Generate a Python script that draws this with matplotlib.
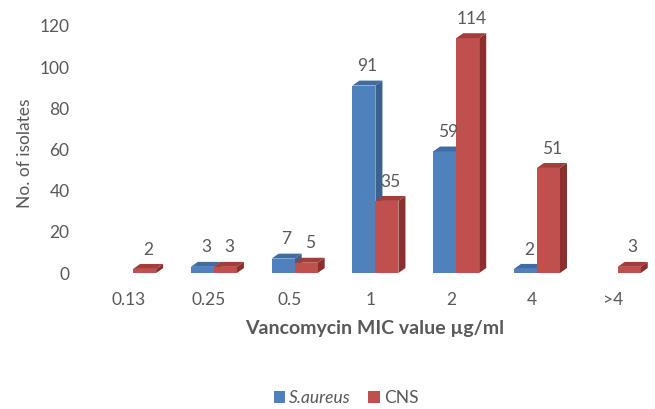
import matplotlib
matplotlib.use("Agg")
import matplotlib.pyplot as plt
from matplotlib.patches import Polygon, Patch
import numpy as np

categories = ["0.13", "0.25", "0.5", "1", "2", "4", ">4"]
s_aureus = [None, 3, 7, 91, 59, 2, None]
cns = [2, 3, 5, 35, 114, 51, 3]
series_names = ["S.aureus", "CNS"]

plt.rcParams['font.family'] = ['Lato', 'DejaVu Sans']
grey = "#595959"

fig = plt.figure(figsize=(6.55, 4.09), dpi=100)
ax = fig.add_axes([100/655, 0.3325, 550/655, 0.6296])
ax.set_xlim(-0.41, 6.40)
ax.set_ylim(0, 125)

colors = {
    "S.aureus": ("#4F81BD", "#3A6190", "#3E6CA3"),
    "CNS": ("#C0504D", "#8A2F2D", "#A33D3A"),
}
w = 0.285
dx = 0.087
dy = 2.4

x = np.arange(len(categories))
for si, (name, vals) in enumerate(zip(series_names, [s_aureus, cns])):
    front, side, top = colors[name]
    for i, v in enumerate(vals):
        if v is None:
            continue
        x0 = x[i] - w + si * w
        ax.add_patch(Polygon([(x0 + w, 0), (x0 + w + dx, dy), (x0 + w + dx, v + dy), (x0 + w, v)],
                             closed=True, facecolor=side, edgecolor="none", clip_on=False, zorder=2 + si * 2))
        ax.bar(x0, v, width=w, align="edge", color=front, edgecolor="none", zorder=3 + si * 2, clip_on=False)
        ax.add_patch(Polygon([(x0, v), (x0 + dx, v + dy), (x0 + w + dx, v + dy), (x0 + w, v)],
                             closed=True, facecolor=top, edgecolor="none", clip_on=False, zorder=3 + si * 2))
        ax.text(x0 + w / 2 + dx / 2, v + 5.5, str(v), ha="center", va="bottom", fontsize=12.5,
                color=grey, zorder=10)

ax.set_xticks(x - 0.06)
ax.set_xticklabels(categories)
ax.set_yticks(np.arange(0, 121, 20))
ax.tick_params(axis="both", length=0, labelsize=12.5, labelcolor=grey)
ax.tick_params(axis="x", pad=14)
ax.tick_params(axis="y", pad=22)
for s in ax.spines.values():
    s.set_visible(False)

ax.set_ylabel("No. of isolates", fontsize=12.5, color=grey)
ax.yaxis.set_label_coords(-0.122, 0.466)
ax.set_xlabel("Vancomycin MIC value µg/ml", fontsize=14, fontweight="bold", color=grey, labelpad=8)

handles = [Patch(facecolor=colors[n][0]) for n in series_names]
leg = fig.legend(handles, series_names, loc="center", bbox_to_anchor=(346/655, 1 - 398/409),
                 ncol=2, frameon=False, fontsize=12.5, handlelength=0.65, handleheight=0.65,
                 handletextpad=0.25, columnspacing=1.0)
for t in leg.get_texts():
    t.set_color(grey)
leg.get_texts()[0].set_fontstyle("italic")

fig.savefig("out.png", dpi=100)
